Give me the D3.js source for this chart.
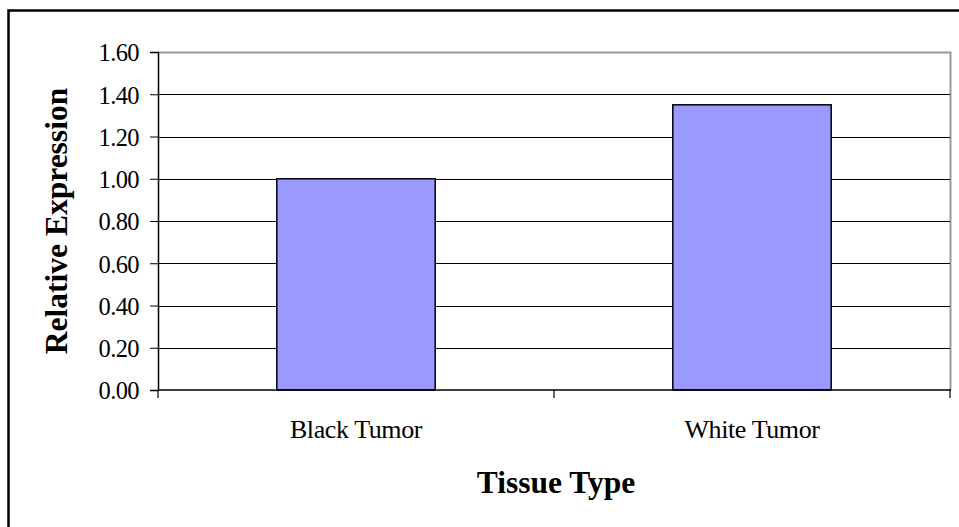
<!DOCTYPE html>
<html>
<head>
<meta charset="utf-8">
<script src="https://cdn.jsdelivr.net/npm/d3@7"></script>
<style>
  html, body { margin: 0; padding: 0; background: #fff; }
  svg { display: block; }
  text { font-family: "Liberation Serif", "Times New Roman", serif; fill: #000; }
</style>
</head>
<body>
<svg id="chart" width="959" height="527"></svg>
<script>
// Relative expression by tissue type
const categories = ["Black Tumor", "White Tumor"];
const values = [1.00, 1.35];
const yTicks = [0, 0.2, 0.4, 0.6, 0.8, 1.0, 1.2, 1.4, 1.6];
const yTitle = "Relative Expression";
const xTitle = "Tissue Type";

const W = 959, H = 527;
const plot = { left: 158, top: 52, right: 950, bottom: 390 };

const svg = d3.select("#chart");

// outer chart frame (extends past the visible window on right/bottom)
svg.append("rect")
  .attr("x", 8.5).attr("y", 10.5)
  .attr("width", W + 20).attr("height", H + 20)
  .attr("fill", "#fff").attr("stroke", "#000").attr("stroke-width", 2.5);

const x = d3.scaleBand()
  .domain(categories)
  .range([plot.left, plot.right])
  .paddingInner(0).paddingOuter(0);

const y = d3.scaleLinear()
  .domain([0, 1.6])
  .range([plot.bottom, plot.top]);

// plot area border: grey top and right
svg.append("path")
  .attr("d", `M${plot.left},${plot.top + 0.5}H${plot.right + 0.5}V${plot.bottom}`)
  .attr("fill", "none").attr("stroke", "#999").attr("stroke-width", 2);

// horizontal gridlines
svg.append("g")
  .selectAll("line")
  .data(yTicks.filter(d => d > 0 && d < 1.6))
  .join("line")
  .attr("x1", plot.left).attr("x2", plot.right)
  .attr("y1", d => Math.round(y(d)) + 0.5).attr("y2", d => Math.round(y(d)) + 0.5)
  .attr("stroke", "#000").attr("stroke-width", 1);

// bars
const barW = x.bandwidth() * 0.4;
svg.append("g")
  .selectAll("rect")
  .data(categories.map((c, i) => ({ c, v: values[i] })))
  .join("rect")
  .attr("x", d => x(d.c) + (x.bandwidth() - barW) / 2)
  .attr("y", d => y(d.v))
  .attr("width", barW)
  .attr("height", d => y(0) - y(d.v))
  .attr("fill", "#9999FF")
  .attr("stroke", "#000").attr("stroke-width", 1.5);

// y axis
const yAxis = d3.axisLeft(y)
  .tickValues(yTicks)
  .tickFormat(d3.format(".2f"))
  .tickSize(8)
  .tickPadding(11);
const gy = svg.append("g")
  .attr("transform", `translate(${plot.left},0)`)
  .call(yAxis);
gy.select(".domain").attr("stroke", "#000").attr("stroke-width", 1.5);
gy.selectAll(".tick line").attr("stroke", "#000");
gy.selectAll(".tick text")
  .attr("font-family", "'Liberation Serif', serif")
  .attr("font-size", 24.5)
  .attr("letter-spacing", -0.6)
  .attr("dy", "0.36em")
  .attr("fill", "#000");

// x axis with ticks on category boundaries
const gx = svg.append("g")
  .attr("transform", `translate(0,${plot.bottom})`);
gx.append("line")
  .attr("x1", plot.left).attr("x2", plot.right + 1)
  .attr("y1", 0).attr("y2", 0)
  .attr("stroke", "#000").attr("stroke-width", 1.5);
const bounds = categories.map(c => x(c)).concat([plot.right]);
gx.selectAll(".bt")
  .data(bounds)
  .join("line")
  .attr("class", "bt")
  .attr("x1", d => d).attr("x2", d => d)
  .attr("y1", 0).attr("y2", 8)
  .attr("stroke", "#000").attr("stroke-width", 1.2);
gx.selectAll(".lbl")
  .data(categories)
  .join("text")
  .attr("class", "lbl")
  .attr("x", d => x(d) + x.bandwidth() / 2)
  .attr("y", 48)
  .attr("text-anchor", "middle")
  .attr("font-size", 26)
  .attr("letter-spacing", -0.4)
  .text(d => d);

// axis titles
svg.append("text")
  .attr("x", (plot.left + plot.right) / 2 + 2)
  .attr("y", 493)
  .attr("text-anchor", "middle")
  .attr("font-size", 31.5)
  .attr("font-weight", "bold")
  .text(xTitle);

svg.append("text")
  .attr("transform", `translate(67,${(plot.top + plot.bottom) / 2}) rotate(-90)`)
  .attr("text-anchor", "middle")
  .attr("font-size", 31.5)
  .attr("font-weight", "bold")
  .text(yTitle);
</script>
</body>
</html>
